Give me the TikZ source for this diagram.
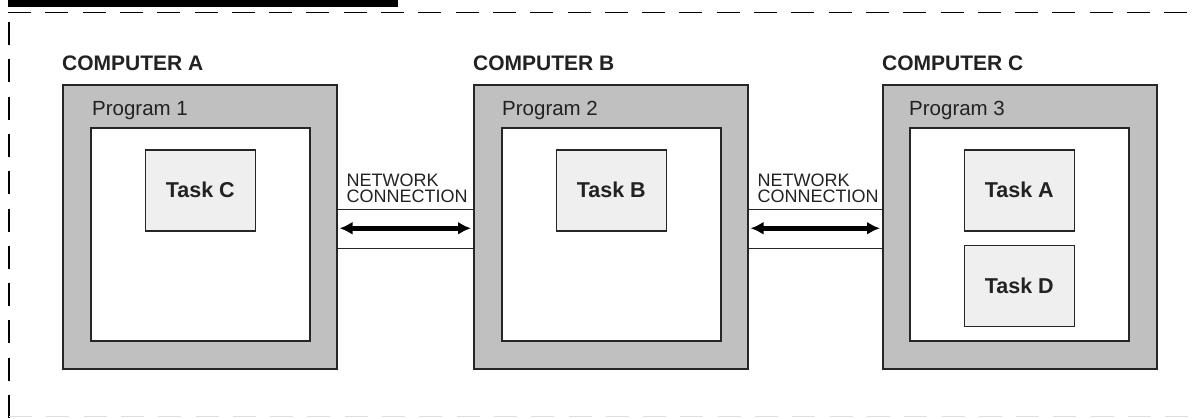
\documentclass[tikz,border=0pt]{standalone}
\usepackage{fontspec}
\setmainfont{Liberation Sans}
\usetikzlibrary{arrows.meta,positioning}
\definecolor{boxgray}{HTML}{C0C0C0}
\definecolor{taskfill}{HTML}{EFEFEF}
\definecolor{edge}{HTML}{262626}
\definecolor{ink}{HTML}{222222}
\begin{document}
\begin{tikzpicture}[x=1pt,y=-1pt,
  computer/.style={draw=edge, line width=1.5pt, fill=boxgray, minimum width=274pt,
    minimum height=284pt, anchor=north west, inner sep=0pt},
  program/.style={draw=edge, line width=1.5pt, fill=white, minimum width=219pt,
    minimum height=213pt, anchor=north west, inner sep=0pt},
  task/.style={draw=edge, line width=1.5pt, fill=taskfill, minimum width=110pt,
    minimum height=81pt, inner sep=0pt, text=ink,
    font=\fontsize{21.5}{24}\selectfont\bfseries},
  comptitle/.style={anchor=base west, inner sep=0pt, text=ink,
    font=\fontsize{21}{24}\selectfont\bfseries},
  progtitle/.style={anchor=base west, inner sep=0pt, text=ink,
    font=\fontsize{20.5}{24}\selectfont},
  netlabel/.style={anchor=south west, inner sep=0pt, align=left, text=ink,
    font=\fontsize{18}{16.5}\selectfont},
  link/.style={draw=edge, line width=1.5pt},
  duplex/.style={line width=4.5pt, draw=black,
    {Latex[length=13pt,width=13pt]}-{Latex[length=13pt,width=13pt]},
    shorten <=2pt, shorten >=2pt},
  frame/.style={line width=1.8pt, dash pattern=on 23pt off 14.3pt},
]
\useasboundingbox (0,0) rectangle (1196,418);

% header bar and dashed enclosure
\fill[black] (8,0) rectangle (398,7);
\draw[frame] (8,12.5) -- (1196,12.5);
\draw[frame, dash phase=27.8pt] (9,12.5) -- (9,418);
\draw[frame, draw=gray!25] (9,416.5) -- (1196,416.5);

% computer A
\node[comptitle] (titleA) at (62,70) {COMPUTER A};
\node[computer] (compA) at (62,84) {};
\node[program] (progA) at (90,127) {};
\node[progtitle] (ptitleA) at (92,115) {Program 1};
\node[task, below=22pt of progA.north] (taskC) {Task C};

% computer B
\node[comptitle] (titleB) at (473,70) {COMPUTER B};
\node[computer] (compB) at (473,84) {};
\node[program] (progB) at (501,127) {};
\node[progtitle] (ptitleB) at (502,115) {Program 2};
\node[task, below=22pt of progB.north] (taskB) {Task B};

% computer C
\node[comptitle] (titleC) at (882,70) {COMPUTER C};
\node[computer] (compC) at (882,84) {};
\node[program] (progC) at (909,127) {};
\node[progtitle] (ptitleC) at (909,115) {Program 3};
\node[task, below=22pt of progC.north] (taskA) {Task A};
\node[task, below=13pt of taskA] (taskD) {Task D};

% network connection A <-> B
\draw[link] ([yshift=17.5pt]compA.east) -- ([yshift=17.5pt]compB.west);
\draw[link] ([yshift=-21.5pt]compA.east) -- ([yshift=-21.5pt]compB.west);
\draw[duplex] ([yshift=-1.5pt]compA.east) -- ([yshift=-1.5pt]compB.west);
\node[netlabel] (netAB) at ([xshift=9pt,yshift=23.5pt]compA.east) {NETWORK\\CONNECTION};

% network connection B <-> C
\draw[link] ([yshift=17.5pt]compB.east) -- ([yshift=17.5pt]compC.west);
\draw[link] ([yshift=-21.5pt]compB.east) -- ([yshift=-21.5pt]compC.west);
\draw[duplex] ([yshift=-1.5pt]compB.east) -- ([yshift=-1.5pt]compC.west);
\node[netlabel] (netBC) at ([xshift=9pt,yshift=23.5pt]compB.east) {NETWORK\\CONNECTION};
\end{tikzpicture}
\end{document}
